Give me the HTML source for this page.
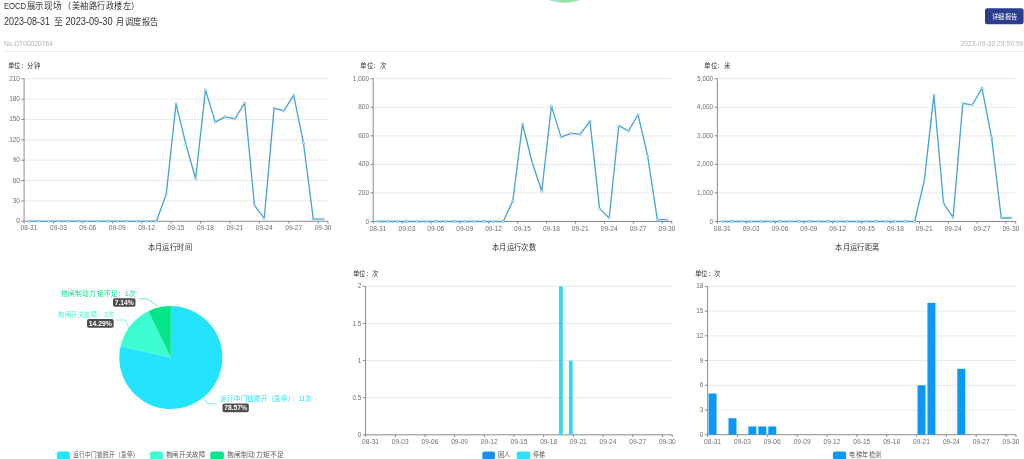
<!DOCTYPE html>
<html lang="zh-CN"><head><meta charset="utf-8"><style>
html,body{margin:0;padding:0;background:#fff;}
body{width:1024px;height:459px;overflow:hidden;position:relative;}
svg{position:absolute;left:0;top:0;font-family:"Liberation Sans", sans-serif;filter:blur(0.55px);}
</style></head><body>
<svg width="1024" height="459" viewBox="0 0 1024 459">
<text x="3.90" y="8.50" font-size="9.6" fill="#333" text-anchor="start" textLength="22.3" lengthAdjust="spacingAndGlyphs">EOCD</text>
<text x="26.60" y="8.50" font-size="8.7" fill="#333" text-anchor="start" textLength="35.1" lengthAdjust="spacingAndGlyphs">展示现场</text>
<text x="63.40" y="8.50" font-size="8.7" fill="#333" text-anchor="start" textLength="76.6" lengthAdjust="spacingAndGlyphs">（美袖路行政楼左）</text>
<text x="3.90" y="24.90" font-size="10" fill="#333" text-anchor="start" textLength="46" lengthAdjust="spacingAndGlyphs">2023-08-31</text>
<text x="53.90" y="24.90" font-size="8.8" fill="#333" text-anchor="start">至</text>
<text x="65.40" y="24.90" font-size="10" fill="#333" text-anchor="start" textLength="47.2" lengthAdjust="spacingAndGlyphs">2023-09-30</text>
<text x="116.40" y="24.90" font-size="8.8" fill="#333" text-anchor="start" textLength="41.9" lengthAdjust="spacingAndGlyphs">月调度报告</text>
<text x="3.90" y="45.80" font-size="6.7" fill="#b4b4b4" text-anchor="start" textLength="49" lengthAdjust="spacingAndGlyphs">No.DT00020764</text>
<text x="1023.50" y="45.80" font-size="6.7" fill="#b4b4b4" text-anchor="end" textLength="63" lengthAdjust="spacingAndGlyphs">2023-09-30 23:59:59</text>
<line x1="3.9" y1="51.3" x2="1024" y2="51.3" stroke="#ececec" stroke-width="1"/>
<rect x="985" y="8.2" width="38.6" height="16" rx="2.2" fill="#2b3d8e"/>
<text x="991.50" y="18.60" font-size="6.7" fill="#fff" text-anchor="start" textLength="26" lengthAdjust="spacingAndGlyphs">详细报告</text>
<defs><linearGradient id="gb" gradientUnits="userSpaceOnUse" x1="548" y1="0" x2="581" y2="0"><stop offset="0" stop-color="#b0d8d0"/><stop offset="0.3" stop-color="#a0e4b8"/><stop offset="0.5" stop-color="#8ae898"/><stop offset="1" stop-color="#98e8a8"/></linearGradient></defs>
<circle cx="564.4" cy="-47.3" r="50" fill="url(#gb)"/>
<line x1="21.3" y1="221.30" x2="24.1" y2="221.30" stroke="#6e6e6e" stroke-width="0.8"/>
<text x="19.90" y="223.30" font-size="7.3" fill="#707070" text-anchor="end" textLength="3.59" lengthAdjust="spacingAndGlyphs">0</text>
<line x1="24.1" y1="200.93" x2="328" y2="200.93" stroke="#e4e4e4" stroke-width="0.8"/>
<line x1="21.3" y1="200.93" x2="24.1" y2="200.93" stroke="#6e6e6e" stroke-width="0.8"/>
<text x="19.90" y="202.93" font-size="7.3" fill="#707070" text-anchor="end" textLength="7.17" lengthAdjust="spacingAndGlyphs">30</text>
<line x1="24.1" y1="180.56" x2="328" y2="180.56" stroke="#e4e4e4" stroke-width="0.8"/>
<line x1="21.3" y1="180.56" x2="24.1" y2="180.56" stroke="#6e6e6e" stroke-width="0.8"/>
<text x="19.90" y="182.56" font-size="7.3" fill="#707070" text-anchor="end" textLength="7.17" lengthAdjust="spacingAndGlyphs">60</text>
<line x1="24.1" y1="160.19" x2="328" y2="160.19" stroke="#e4e4e4" stroke-width="0.8"/>
<line x1="21.3" y1="160.19" x2="24.1" y2="160.19" stroke="#6e6e6e" stroke-width="0.8"/>
<text x="19.90" y="162.19" font-size="7.3" fill="#707070" text-anchor="end" textLength="7.17" lengthAdjust="spacingAndGlyphs">90</text>
<line x1="24.1" y1="139.81" x2="328" y2="139.81" stroke="#e4e4e4" stroke-width="0.8"/>
<line x1="21.3" y1="139.81" x2="24.1" y2="139.81" stroke="#6e6e6e" stroke-width="0.8"/>
<text x="19.90" y="141.81" font-size="7.3" fill="#707070" text-anchor="end" textLength="10.76" lengthAdjust="spacingAndGlyphs">120</text>
<line x1="24.1" y1="119.44" x2="328" y2="119.44" stroke="#e4e4e4" stroke-width="0.8"/>
<line x1="21.3" y1="119.44" x2="24.1" y2="119.44" stroke="#6e6e6e" stroke-width="0.8"/>
<text x="19.90" y="121.44" font-size="7.3" fill="#707070" text-anchor="end" textLength="10.76" lengthAdjust="spacingAndGlyphs">150</text>
<line x1="24.1" y1="99.07" x2="328" y2="99.07" stroke="#e4e4e4" stroke-width="0.8"/>
<line x1="21.3" y1="99.07" x2="24.1" y2="99.07" stroke="#6e6e6e" stroke-width="0.8"/>
<text x="19.90" y="101.07" font-size="7.3" fill="#707070" text-anchor="end" textLength="10.76" lengthAdjust="spacingAndGlyphs">180</text>
<line x1="24.1" y1="78.70" x2="328" y2="78.70" stroke="#e4e4e4" stroke-width="0.8"/>
<line x1="21.3" y1="78.70" x2="24.1" y2="78.70" stroke="#6e6e6e" stroke-width="0.8"/>
<text x="19.90" y="80.70" font-size="7.3" fill="#707070" text-anchor="end" textLength="10.76" lengthAdjust="spacingAndGlyphs">210</text>
<line x1="24.1" y1="78.7" x2="24.1" y2="221.3" stroke="#6e6e6e" stroke-width="0.8"/>
<line x1="24.1" y1="221.3" x2="328" y2="221.3" stroke="#6e6e6e" stroke-width="0.8"/>
<line x1="24.10" y1="221.3" x2="24.10" y2="223.5" stroke="#6e6e6e" stroke-width="0.8"/>
<line x1="53.51" y1="221.3" x2="53.51" y2="223.5" stroke="#6e6e6e" stroke-width="0.8"/>
<line x1="82.92" y1="221.3" x2="82.92" y2="223.5" stroke="#6e6e6e" stroke-width="0.8"/>
<line x1="112.33" y1="221.3" x2="112.33" y2="223.5" stroke="#6e6e6e" stroke-width="0.8"/>
<line x1="141.74" y1="221.3" x2="141.74" y2="223.5" stroke="#6e6e6e" stroke-width="0.8"/>
<line x1="171.15" y1="221.3" x2="171.15" y2="223.5" stroke="#6e6e6e" stroke-width="0.8"/>
<line x1="200.56" y1="221.3" x2="200.56" y2="223.5" stroke="#6e6e6e" stroke-width="0.8"/>
<line x1="229.97" y1="221.3" x2="229.97" y2="223.5" stroke="#6e6e6e" stroke-width="0.8"/>
<line x1="259.38" y1="221.3" x2="259.38" y2="223.5" stroke="#6e6e6e" stroke-width="0.8"/>
<line x1="288.79" y1="221.3" x2="288.79" y2="223.5" stroke="#6e6e6e" stroke-width="0.8"/>
<line x1="318.20" y1="221.3" x2="318.20" y2="223.5" stroke="#6e6e6e" stroke-width="0.8"/>
<line x1="328.00" y1="221.3" x2="328.00" y2="223.5" stroke="#6e6e6e" stroke-width="0.8"/>
<text x="29.00" y="230.45" font-size="7.3" fill="#707070" text-anchor="middle" textLength="16.9" lengthAdjust="spacingAndGlyphs">08-31</text>
<text x="58.41" y="230.45" font-size="7.3" fill="#707070" text-anchor="middle" textLength="16.9" lengthAdjust="spacingAndGlyphs">09-03</text>
<text x="87.82" y="230.45" font-size="7.3" fill="#707070" text-anchor="middle" textLength="16.9" lengthAdjust="spacingAndGlyphs">09-06</text>
<text x="117.23" y="230.45" font-size="7.3" fill="#707070" text-anchor="middle" textLength="16.9" lengthAdjust="spacingAndGlyphs">09-09</text>
<text x="146.64" y="230.45" font-size="7.3" fill="#707070" text-anchor="middle" textLength="16.9" lengthAdjust="spacingAndGlyphs">09-12</text>
<text x="176.05" y="230.45" font-size="7.3" fill="#707070" text-anchor="middle" textLength="16.9" lengthAdjust="spacingAndGlyphs">09-15</text>
<text x="205.46" y="230.45" font-size="7.3" fill="#707070" text-anchor="middle" textLength="16.9" lengthAdjust="spacingAndGlyphs">09-18</text>
<text x="234.87" y="230.45" font-size="7.3" fill="#707070" text-anchor="middle" textLength="16.9" lengthAdjust="spacingAndGlyphs">09-21</text>
<text x="264.28" y="230.45" font-size="7.3" fill="#707070" text-anchor="middle" textLength="16.9" lengthAdjust="spacingAndGlyphs">09-24</text>
<text x="293.69" y="230.45" font-size="7.3" fill="#707070" text-anchor="middle" textLength="16.9" lengthAdjust="spacingAndGlyphs">09-27</text>
<text x="323.10" y="230.45" font-size="7.3" fill="#707070" text-anchor="middle" textLength="16.9" lengthAdjust="spacingAndGlyphs">09-30</text>
<path d="M29.00,221.30 L38.80,221.30 L48.61,221.30 L58.41,221.30 L68.21,221.30 L78.02,221.30 L87.82,221.30 L97.62,221.30 L107.43,221.30 L117.23,221.30 L127.03,221.30 L136.84,221.30 L146.64,221.30 L156.44,221.30 L166.25,194.14 L176.05,103.82 L185.85,144.16 L195.66,178.79 L205.46,89.90 L215.26,122.16 L225.07,116.86 L234.87,118.97 L244.67,102.87 L254.48,205.41 L264.28,218.38 L274.08,108.10 L283.89,110.89 L293.69,95.13 L303.49,143.21 L313.30,219.06 L323.10,219.06" fill="none" stroke="#43a2d6" stroke-width="1.3" stroke-linejoin="round"/>
<circle cx="29.00" cy="221.30" r="1.1" fill="#fff" stroke="#43a2d6" stroke-width="0.6"/>
<circle cx="38.80" cy="221.30" r="1.1" fill="#fff" stroke="#43a2d6" stroke-width="0.6"/>
<circle cx="48.61" cy="221.30" r="1.1" fill="#fff" stroke="#43a2d6" stroke-width="0.6"/>
<circle cx="58.41" cy="221.30" r="1.1" fill="#fff" stroke="#43a2d6" stroke-width="0.6"/>
<circle cx="68.21" cy="221.30" r="1.1" fill="#fff" stroke="#43a2d6" stroke-width="0.6"/>
<circle cx="78.02" cy="221.30" r="1.1" fill="#fff" stroke="#43a2d6" stroke-width="0.6"/>
<circle cx="87.82" cy="221.30" r="1.1" fill="#fff" stroke="#43a2d6" stroke-width="0.6"/>
<circle cx="97.62" cy="221.30" r="1.1" fill="#fff" stroke="#43a2d6" stroke-width="0.6"/>
<circle cx="107.43" cy="221.30" r="1.1" fill="#fff" stroke="#43a2d6" stroke-width="0.6"/>
<circle cx="117.23" cy="221.30" r="1.1" fill="#fff" stroke="#43a2d6" stroke-width="0.6"/>
<circle cx="127.03" cy="221.30" r="1.1" fill="#fff" stroke="#43a2d6" stroke-width="0.6"/>
<circle cx="136.84" cy="221.30" r="1.1" fill="#fff" stroke="#43a2d6" stroke-width="0.6"/>
<circle cx="146.64" cy="221.30" r="1.1" fill="#fff" stroke="#43a2d6" stroke-width="0.6"/>
<circle cx="156.44" cy="221.30" r="1.1" fill="#fff" stroke="#43a2d6" stroke-width="0.6"/>
<circle cx="166.25" cy="194.14" r="1.1" fill="#fff" stroke="#43a2d6" stroke-width="0.6"/>
<circle cx="176.05" cy="103.82" r="1.1" fill="#fff" stroke="#43a2d6" stroke-width="0.6"/>
<circle cx="185.85" cy="144.16" r="1.1" fill="#fff" stroke="#43a2d6" stroke-width="0.6"/>
<circle cx="195.66" cy="178.79" r="1.1" fill="#fff" stroke="#43a2d6" stroke-width="0.6"/>
<circle cx="205.46" cy="89.90" r="1.1" fill="#fff" stroke="#43a2d6" stroke-width="0.6"/>
<circle cx="215.26" cy="122.16" r="1.1" fill="#fff" stroke="#43a2d6" stroke-width="0.6"/>
<circle cx="225.07" cy="116.86" r="1.1" fill="#fff" stroke="#43a2d6" stroke-width="0.6"/>
<circle cx="234.87" cy="118.97" r="1.1" fill="#fff" stroke="#43a2d6" stroke-width="0.6"/>
<circle cx="244.67" cy="102.87" r="1.1" fill="#fff" stroke="#43a2d6" stroke-width="0.6"/>
<circle cx="254.48" cy="205.41" r="1.1" fill="#fff" stroke="#43a2d6" stroke-width="0.6"/>
<circle cx="264.28" cy="218.38" r="1.1" fill="#fff" stroke="#43a2d6" stroke-width="0.6"/>
<circle cx="274.08" cy="108.10" r="1.1" fill="#fff" stroke="#43a2d6" stroke-width="0.6"/>
<circle cx="283.89" cy="110.89" r="1.1" fill="#fff" stroke="#43a2d6" stroke-width="0.6"/>
<circle cx="293.69" cy="95.13" r="1.1" fill="#fff" stroke="#43a2d6" stroke-width="0.6"/>
<circle cx="303.49" cy="143.21" r="1.1" fill="#fff" stroke="#43a2d6" stroke-width="0.6"/>
<circle cx="313.30" cy="219.06" r="1.1" fill="#fff" stroke="#43a2d6" stroke-width="0.6"/>
<circle cx="323.10" cy="219.06" r="1.1" fill="#fff" stroke="#43a2d6" stroke-width="0.6"/>
<line x1="370.4" y1="221.50" x2="373.2" y2="221.50" stroke="#6e6e6e" stroke-width="0.8"/>
<text x="369.00" y="223.50" font-size="7.3" fill="#707070" text-anchor="end" textLength="3.59" lengthAdjust="spacingAndGlyphs">0</text>
<line x1="373.2" y1="192.94" x2="671.8" y2="192.94" stroke="#e4e4e4" stroke-width="0.8"/>
<line x1="370.4" y1="192.94" x2="373.2" y2="192.94" stroke="#6e6e6e" stroke-width="0.8"/>
<text x="369.00" y="194.94" font-size="7.3" fill="#707070" text-anchor="end" textLength="10.76" lengthAdjust="spacingAndGlyphs">200</text>
<line x1="373.2" y1="164.38" x2="671.8" y2="164.38" stroke="#e4e4e4" stroke-width="0.8"/>
<line x1="370.4" y1="164.38" x2="373.2" y2="164.38" stroke="#6e6e6e" stroke-width="0.8"/>
<text x="369.00" y="166.38" font-size="7.3" fill="#707070" text-anchor="end" textLength="10.76" lengthAdjust="spacingAndGlyphs">400</text>
<line x1="373.2" y1="135.82" x2="671.8" y2="135.82" stroke="#e4e4e4" stroke-width="0.8"/>
<line x1="370.4" y1="135.82" x2="373.2" y2="135.82" stroke="#6e6e6e" stroke-width="0.8"/>
<text x="369.00" y="137.82" font-size="7.3" fill="#707070" text-anchor="end" textLength="10.76" lengthAdjust="spacingAndGlyphs">600</text>
<line x1="373.2" y1="107.26" x2="671.8" y2="107.26" stroke="#e4e4e4" stroke-width="0.8"/>
<line x1="370.4" y1="107.26" x2="373.2" y2="107.26" stroke="#6e6e6e" stroke-width="0.8"/>
<text x="369.00" y="109.26" font-size="7.3" fill="#707070" text-anchor="end" textLength="10.76" lengthAdjust="spacingAndGlyphs">800</text>
<line x1="373.2" y1="78.70" x2="671.8" y2="78.70" stroke="#e4e4e4" stroke-width="0.8"/>
<line x1="370.4" y1="78.70" x2="373.2" y2="78.70" stroke="#6e6e6e" stroke-width="0.8"/>
<text x="369.00" y="80.70" font-size="7.3" fill="#707070" text-anchor="end" textLength="16.14" lengthAdjust="spacingAndGlyphs">1,000</text>
<line x1="373.2" y1="78.7" x2="373.2" y2="221.5" stroke="#6e6e6e" stroke-width="0.8"/>
<line x1="373.2" y1="221.5" x2="671.8" y2="221.5" stroke="#6e6e6e" stroke-width="0.8"/>
<line x1="373.20" y1="221.5" x2="373.20" y2="223.7" stroke="#6e6e6e" stroke-width="0.8"/>
<line x1="402.10" y1="221.5" x2="402.10" y2="223.7" stroke="#6e6e6e" stroke-width="0.8"/>
<line x1="430.99" y1="221.5" x2="430.99" y2="223.7" stroke="#6e6e6e" stroke-width="0.8"/>
<line x1="459.89" y1="221.5" x2="459.89" y2="223.7" stroke="#6e6e6e" stroke-width="0.8"/>
<line x1="488.79" y1="221.5" x2="488.79" y2="223.7" stroke="#6e6e6e" stroke-width="0.8"/>
<line x1="517.68" y1="221.5" x2="517.68" y2="223.7" stroke="#6e6e6e" stroke-width="0.8"/>
<line x1="546.58" y1="221.5" x2="546.58" y2="223.7" stroke="#6e6e6e" stroke-width="0.8"/>
<line x1="575.48" y1="221.5" x2="575.48" y2="223.7" stroke="#6e6e6e" stroke-width="0.8"/>
<line x1="604.37" y1="221.5" x2="604.37" y2="223.7" stroke="#6e6e6e" stroke-width="0.8"/>
<line x1="633.27" y1="221.5" x2="633.27" y2="223.7" stroke="#6e6e6e" stroke-width="0.8"/>
<line x1="662.17" y1="221.5" x2="662.17" y2="223.7" stroke="#6e6e6e" stroke-width="0.8"/>
<line x1="671.80" y1="221.5" x2="671.80" y2="223.7" stroke="#6e6e6e" stroke-width="0.8"/>
<text x="378.02" y="230.65" font-size="7.3" fill="#707070" text-anchor="middle" textLength="16.9" lengthAdjust="spacingAndGlyphs">08-31</text>
<text x="406.91" y="230.65" font-size="7.3" fill="#707070" text-anchor="middle" textLength="16.9" lengthAdjust="spacingAndGlyphs">09-03</text>
<text x="435.81" y="230.65" font-size="7.3" fill="#707070" text-anchor="middle" textLength="16.9" lengthAdjust="spacingAndGlyphs">09-06</text>
<text x="464.71" y="230.65" font-size="7.3" fill="#707070" text-anchor="middle" textLength="16.9" lengthAdjust="spacingAndGlyphs">09-09</text>
<text x="493.60" y="230.65" font-size="7.3" fill="#707070" text-anchor="middle" textLength="16.9" lengthAdjust="spacingAndGlyphs">09-12</text>
<text x="522.50" y="230.65" font-size="7.3" fill="#707070" text-anchor="middle" textLength="16.9" lengthAdjust="spacingAndGlyphs">09-15</text>
<text x="551.40" y="230.65" font-size="7.3" fill="#707070" text-anchor="middle" textLength="16.9" lengthAdjust="spacingAndGlyphs">09-18</text>
<text x="580.29" y="230.65" font-size="7.3" fill="#707070" text-anchor="middle" textLength="16.9" lengthAdjust="spacingAndGlyphs">09-21</text>
<text x="609.19" y="230.65" font-size="7.3" fill="#707070" text-anchor="middle" textLength="16.9" lengthAdjust="spacingAndGlyphs">09-24</text>
<text x="638.09" y="230.65" font-size="7.3" fill="#707070" text-anchor="middle" textLength="16.9" lengthAdjust="spacingAndGlyphs">09-27</text>
<text x="666.98" y="230.65" font-size="7.3" fill="#707070" text-anchor="middle" textLength="16.9" lengthAdjust="spacingAndGlyphs">09-30</text>
<path d="M378.02,221.50 L387.65,221.50 L397.28,221.50 L406.91,221.50 L416.55,221.50 L426.18,221.50 L435.81,221.50 L445.44,221.50 L455.07,221.50 L464.71,221.50 L474.34,221.50 L483.97,221.50 L493.60,221.50 L503.24,221.50 L512.87,200.65 L522.50,123.97 L532.13,162.24 L541.76,191.23 L551.40,106.12 L561.03,137.11 L570.66,133.39 L580.29,134.11 L589.93,121.11 L599.56,208.65 L609.19,217.93 L618.82,125.68 L628.45,130.96 L638.09,114.54 L647.72,156.38 L657.35,219.64 L666.98,219.64" fill="none" stroke="#43a2d6" stroke-width="1.3" stroke-linejoin="round"/>
<circle cx="378.02" cy="221.50" r="1.1" fill="#fff" stroke="#43a2d6" stroke-width="0.6"/>
<circle cx="387.65" cy="221.50" r="1.1" fill="#fff" stroke="#43a2d6" stroke-width="0.6"/>
<circle cx="397.28" cy="221.50" r="1.1" fill="#fff" stroke="#43a2d6" stroke-width="0.6"/>
<circle cx="406.91" cy="221.50" r="1.1" fill="#fff" stroke="#43a2d6" stroke-width="0.6"/>
<circle cx="416.55" cy="221.50" r="1.1" fill="#fff" stroke="#43a2d6" stroke-width="0.6"/>
<circle cx="426.18" cy="221.50" r="1.1" fill="#fff" stroke="#43a2d6" stroke-width="0.6"/>
<circle cx="435.81" cy="221.50" r="1.1" fill="#fff" stroke="#43a2d6" stroke-width="0.6"/>
<circle cx="445.44" cy="221.50" r="1.1" fill="#fff" stroke="#43a2d6" stroke-width="0.6"/>
<circle cx="455.07" cy="221.50" r="1.1" fill="#fff" stroke="#43a2d6" stroke-width="0.6"/>
<circle cx="464.71" cy="221.50" r="1.1" fill="#fff" stroke="#43a2d6" stroke-width="0.6"/>
<circle cx="474.34" cy="221.50" r="1.1" fill="#fff" stroke="#43a2d6" stroke-width="0.6"/>
<circle cx="483.97" cy="221.50" r="1.1" fill="#fff" stroke="#43a2d6" stroke-width="0.6"/>
<circle cx="493.60" cy="221.50" r="1.1" fill="#fff" stroke="#43a2d6" stroke-width="0.6"/>
<circle cx="503.24" cy="221.50" r="1.1" fill="#fff" stroke="#43a2d6" stroke-width="0.6"/>
<circle cx="512.87" cy="200.65" r="1.1" fill="#fff" stroke="#43a2d6" stroke-width="0.6"/>
<circle cx="522.50" cy="123.97" r="1.1" fill="#fff" stroke="#43a2d6" stroke-width="0.6"/>
<circle cx="532.13" cy="162.24" r="1.1" fill="#fff" stroke="#43a2d6" stroke-width="0.6"/>
<circle cx="541.76" cy="191.23" r="1.1" fill="#fff" stroke="#43a2d6" stroke-width="0.6"/>
<circle cx="551.40" cy="106.12" r="1.1" fill="#fff" stroke="#43a2d6" stroke-width="0.6"/>
<circle cx="561.03" cy="137.11" r="1.1" fill="#fff" stroke="#43a2d6" stroke-width="0.6"/>
<circle cx="570.66" cy="133.39" r="1.1" fill="#fff" stroke="#43a2d6" stroke-width="0.6"/>
<circle cx="580.29" cy="134.11" r="1.1" fill="#fff" stroke="#43a2d6" stroke-width="0.6"/>
<circle cx="589.93" cy="121.11" r="1.1" fill="#fff" stroke="#43a2d6" stroke-width="0.6"/>
<circle cx="599.56" cy="208.65" r="1.1" fill="#fff" stroke="#43a2d6" stroke-width="0.6"/>
<circle cx="609.19" cy="217.93" r="1.1" fill="#fff" stroke="#43a2d6" stroke-width="0.6"/>
<circle cx="618.82" cy="125.68" r="1.1" fill="#fff" stroke="#43a2d6" stroke-width="0.6"/>
<circle cx="628.45" cy="130.96" r="1.1" fill="#fff" stroke="#43a2d6" stroke-width="0.6"/>
<circle cx="638.09" cy="114.54" r="1.1" fill="#fff" stroke="#43a2d6" stroke-width="0.6"/>
<circle cx="647.72" cy="156.38" r="1.1" fill="#fff" stroke="#43a2d6" stroke-width="0.6"/>
<circle cx="657.35" cy="219.64" r="1.1" fill="#fff" stroke="#43a2d6" stroke-width="0.6"/>
<circle cx="666.98" cy="219.64" r="1.1" fill="#fff" stroke="#43a2d6" stroke-width="0.6"/>
<line x1="714.6" y1="221.50" x2="717.4" y2="221.50" stroke="#6e6e6e" stroke-width="0.8"/>
<text x="713.20" y="223.50" font-size="7.3" fill="#707070" text-anchor="end" textLength="3.59" lengthAdjust="spacingAndGlyphs">0</text>
<line x1="717.4" y1="192.94" x2="1015.7" y2="192.94" stroke="#e4e4e4" stroke-width="0.8"/>
<line x1="714.6" y1="192.94" x2="717.4" y2="192.94" stroke="#6e6e6e" stroke-width="0.8"/>
<text x="713.20" y="194.94" font-size="7.3" fill="#707070" text-anchor="end" textLength="16.14" lengthAdjust="spacingAndGlyphs">1,000</text>
<line x1="717.4" y1="164.38" x2="1015.7" y2="164.38" stroke="#e4e4e4" stroke-width="0.8"/>
<line x1="714.6" y1="164.38" x2="717.4" y2="164.38" stroke="#6e6e6e" stroke-width="0.8"/>
<text x="713.20" y="166.38" font-size="7.3" fill="#707070" text-anchor="end" textLength="16.14" lengthAdjust="spacingAndGlyphs">2,000</text>
<line x1="717.4" y1="135.82" x2="1015.7" y2="135.82" stroke="#e4e4e4" stroke-width="0.8"/>
<line x1="714.6" y1="135.82" x2="717.4" y2="135.82" stroke="#6e6e6e" stroke-width="0.8"/>
<text x="713.20" y="137.82" font-size="7.3" fill="#707070" text-anchor="end" textLength="16.14" lengthAdjust="spacingAndGlyphs">3,000</text>
<line x1="717.4" y1="107.26" x2="1015.7" y2="107.26" stroke="#e4e4e4" stroke-width="0.8"/>
<line x1="714.6" y1="107.26" x2="717.4" y2="107.26" stroke="#6e6e6e" stroke-width="0.8"/>
<text x="713.20" y="109.26" font-size="7.3" fill="#707070" text-anchor="end" textLength="16.14" lengthAdjust="spacingAndGlyphs">4,000</text>
<line x1="717.4" y1="78.70" x2="1015.7" y2="78.70" stroke="#e4e4e4" stroke-width="0.8"/>
<line x1="714.6" y1="78.70" x2="717.4" y2="78.70" stroke="#6e6e6e" stroke-width="0.8"/>
<text x="713.20" y="80.70" font-size="7.3" fill="#707070" text-anchor="end" textLength="16.14" lengthAdjust="spacingAndGlyphs">5,000</text>
<line x1="717.4" y1="78.7" x2="717.4" y2="221.5" stroke="#6e6e6e" stroke-width="0.8"/>
<line x1="717.4" y1="221.5" x2="1015.7" y2="221.5" stroke="#6e6e6e" stroke-width="0.8"/>
<line x1="717.40" y1="221.5" x2="717.40" y2="223.7" stroke="#6e6e6e" stroke-width="0.8"/>
<line x1="746.27" y1="221.5" x2="746.27" y2="223.7" stroke="#6e6e6e" stroke-width="0.8"/>
<line x1="775.14" y1="221.5" x2="775.14" y2="223.7" stroke="#6e6e6e" stroke-width="0.8"/>
<line x1="804.00" y1="221.5" x2="804.00" y2="223.7" stroke="#6e6e6e" stroke-width="0.8"/>
<line x1="832.87" y1="221.5" x2="832.87" y2="223.7" stroke="#6e6e6e" stroke-width="0.8"/>
<line x1="861.74" y1="221.5" x2="861.74" y2="223.7" stroke="#6e6e6e" stroke-width="0.8"/>
<line x1="890.61" y1="221.5" x2="890.61" y2="223.7" stroke="#6e6e6e" stroke-width="0.8"/>
<line x1="919.47" y1="221.5" x2="919.47" y2="223.7" stroke="#6e6e6e" stroke-width="0.8"/>
<line x1="948.34" y1="221.5" x2="948.34" y2="223.7" stroke="#6e6e6e" stroke-width="0.8"/>
<line x1="977.21" y1="221.5" x2="977.21" y2="223.7" stroke="#6e6e6e" stroke-width="0.8"/>
<line x1="1006.08" y1="221.5" x2="1006.08" y2="223.7" stroke="#6e6e6e" stroke-width="0.8"/>
<line x1="1015.70" y1="221.5" x2="1015.70" y2="223.7" stroke="#6e6e6e" stroke-width="0.8"/>
<text x="722.21" y="230.65" font-size="7.3" fill="#707070" text-anchor="middle" textLength="16.9" lengthAdjust="spacingAndGlyphs">08-31</text>
<text x="751.08" y="230.65" font-size="7.3" fill="#707070" text-anchor="middle" textLength="16.9" lengthAdjust="spacingAndGlyphs">09-03</text>
<text x="779.95" y="230.65" font-size="7.3" fill="#707070" text-anchor="middle" textLength="16.9" lengthAdjust="spacingAndGlyphs">09-06</text>
<text x="808.81" y="230.65" font-size="7.3" fill="#707070" text-anchor="middle" textLength="16.9" lengthAdjust="spacingAndGlyphs">09-09</text>
<text x="837.68" y="230.65" font-size="7.3" fill="#707070" text-anchor="middle" textLength="16.9" lengthAdjust="spacingAndGlyphs">09-12</text>
<text x="866.55" y="230.65" font-size="7.3" fill="#707070" text-anchor="middle" textLength="16.9" lengthAdjust="spacingAndGlyphs">09-15</text>
<text x="895.42" y="230.65" font-size="7.3" fill="#707070" text-anchor="middle" textLength="16.9" lengthAdjust="spacingAndGlyphs">09-18</text>
<text x="924.29" y="230.65" font-size="7.3" fill="#707070" text-anchor="middle" textLength="16.9" lengthAdjust="spacingAndGlyphs">09-21</text>
<text x="953.15" y="230.65" font-size="7.3" fill="#707070" text-anchor="middle" textLength="16.9" lengthAdjust="spacingAndGlyphs">09-24</text>
<text x="982.02" y="230.65" font-size="7.3" fill="#707070" text-anchor="middle" textLength="16.9" lengthAdjust="spacingAndGlyphs">09-27</text>
<text x="1010.89" y="230.65" font-size="7.3" fill="#707070" text-anchor="middle" textLength="16.9" lengthAdjust="spacingAndGlyphs">09-30</text>
<path d="M722.21,221.50 L731.83,221.50 L741.46,221.50 L751.08,221.50 L760.70,221.50 L770.32,221.50 L779.95,221.50 L789.57,221.50 L799.19,221.50 L808.81,221.50 L818.44,221.50 L828.06,221.50 L837.68,221.50 L847.30,221.50 L856.93,221.50 L866.55,221.50 L876.17,221.50 L885.80,221.50 L895.42,221.50 L905.04,221.50 L914.66,221.50 L924.29,180.72 L933.91,95.09 L943.53,203.31 L953.15,217.30 L962.78,103.38 L972.40,104.78 L982.02,88.10 L991.64,137.85 L1001.27,218.02 L1010.89,218.02" fill="none" stroke="#43a2d6" stroke-width="1.3" stroke-linejoin="round"/>
<circle cx="722.21" cy="221.50" r="1.1" fill="#fff" stroke="#43a2d6" stroke-width="0.6"/>
<circle cx="731.83" cy="221.50" r="1.1" fill="#fff" stroke="#43a2d6" stroke-width="0.6"/>
<circle cx="741.46" cy="221.50" r="1.1" fill="#fff" stroke="#43a2d6" stroke-width="0.6"/>
<circle cx="751.08" cy="221.50" r="1.1" fill="#fff" stroke="#43a2d6" stroke-width="0.6"/>
<circle cx="760.70" cy="221.50" r="1.1" fill="#fff" stroke="#43a2d6" stroke-width="0.6"/>
<circle cx="770.32" cy="221.50" r="1.1" fill="#fff" stroke="#43a2d6" stroke-width="0.6"/>
<circle cx="779.95" cy="221.50" r="1.1" fill="#fff" stroke="#43a2d6" stroke-width="0.6"/>
<circle cx="789.57" cy="221.50" r="1.1" fill="#fff" stroke="#43a2d6" stroke-width="0.6"/>
<circle cx="799.19" cy="221.50" r="1.1" fill="#fff" stroke="#43a2d6" stroke-width="0.6"/>
<circle cx="808.81" cy="221.50" r="1.1" fill="#fff" stroke="#43a2d6" stroke-width="0.6"/>
<circle cx="818.44" cy="221.50" r="1.1" fill="#fff" stroke="#43a2d6" stroke-width="0.6"/>
<circle cx="828.06" cy="221.50" r="1.1" fill="#fff" stroke="#43a2d6" stroke-width="0.6"/>
<circle cx="837.68" cy="221.50" r="1.1" fill="#fff" stroke="#43a2d6" stroke-width="0.6"/>
<circle cx="847.30" cy="221.50" r="1.1" fill="#fff" stroke="#43a2d6" stroke-width="0.6"/>
<circle cx="856.93" cy="221.50" r="1.1" fill="#fff" stroke="#43a2d6" stroke-width="0.6"/>
<circle cx="866.55" cy="221.50" r="1.1" fill="#fff" stroke="#43a2d6" stroke-width="0.6"/>
<circle cx="876.17" cy="221.50" r="1.1" fill="#fff" stroke="#43a2d6" stroke-width="0.6"/>
<circle cx="885.80" cy="221.50" r="1.1" fill="#fff" stroke="#43a2d6" stroke-width="0.6"/>
<circle cx="895.42" cy="221.50" r="1.1" fill="#fff" stroke="#43a2d6" stroke-width="0.6"/>
<circle cx="905.04" cy="221.50" r="1.1" fill="#fff" stroke="#43a2d6" stroke-width="0.6"/>
<circle cx="914.66" cy="221.50" r="1.1" fill="#fff" stroke="#43a2d6" stroke-width="0.6"/>
<circle cx="924.29" cy="180.72" r="1.1" fill="#fff" stroke="#43a2d6" stroke-width="0.6"/>
<circle cx="933.91" cy="95.09" r="1.1" fill="#fff" stroke="#43a2d6" stroke-width="0.6"/>
<circle cx="943.53" cy="203.31" r="1.1" fill="#fff" stroke="#43a2d6" stroke-width="0.6"/>
<circle cx="953.15" cy="217.30" r="1.1" fill="#fff" stroke="#43a2d6" stroke-width="0.6"/>
<circle cx="962.78" cy="103.38" r="1.1" fill="#fff" stroke="#43a2d6" stroke-width="0.6"/>
<circle cx="972.40" cy="104.78" r="1.1" fill="#fff" stroke="#43a2d6" stroke-width="0.6"/>
<circle cx="982.02" cy="88.10" r="1.1" fill="#fff" stroke="#43a2d6" stroke-width="0.6"/>
<circle cx="991.64" cy="137.85" r="1.1" fill="#fff" stroke="#43a2d6" stroke-width="0.6"/>
<circle cx="1001.27" cy="218.02" r="1.1" fill="#fff" stroke="#43a2d6" stroke-width="0.6"/>
<circle cx="1010.89" cy="218.02" r="1.1" fill="#fff" stroke="#43a2d6" stroke-width="0.6"/>
<text x="8.00" y="67.70" font-size="6.9" fill="#333" text-anchor="start" textLength="32" lengthAdjust="spacingAndGlyphs">单位：分钟</text>
<text x="360.20" y="67.70" font-size="6.9" fill="#333" text-anchor="start" textLength="26" lengthAdjust="spacingAndGlyphs">单位：次</text>
<text x="704.00" y="67.70" font-size="6.9" fill="#333" text-anchor="start" textLength="26" lengthAdjust="spacingAndGlyphs">单位：米</text>
<text x="169.80" y="249.90" font-size="7.8" fill="#333" text-anchor="middle" textLength="44.6" lengthAdjust="spacingAndGlyphs">本月运行时间</text>
<text x="514.00" y="249.90" font-size="7.8" fill="#333" text-anchor="middle" textLength="44.6" lengthAdjust="spacingAndGlyphs">本月运行次数</text>
<text x="857.40" y="249.90" font-size="7.8" fill="#333" text-anchor="middle" textLength="44.6" lengthAdjust="spacingAndGlyphs">本月运行距离</text>
<line x1="362.8" y1="434.80" x2="365.6" y2="434.80" stroke="#6e6e6e" stroke-width="0.8"/>
<text x="361.40" y="436.80" font-size="7.3" fill="#707070" text-anchor="end" textLength="3.59" lengthAdjust="spacingAndGlyphs">0</text>
<line x1="365.6" y1="397.70" x2="672.3" y2="397.70" stroke="#e4e4e4" stroke-width="0.8"/>
<line x1="362.8" y1="397.70" x2="365.6" y2="397.70" stroke="#6e6e6e" stroke-width="0.8"/>
<text x="361.40" y="399.70" font-size="7.3" fill="#707070" text-anchor="end" textLength="8.97" lengthAdjust="spacingAndGlyphs">0.5</text>
<line x1="365.6" y1="360.60" x2="672.3" y2="360.60" stroke="#e4e4e4" stroke-width="0.8"/>
<line x1="362.8" y1="360.60" x2="365.6" y2="360.60" stroke="#6e6e6e" stroke-width="0.8"/>
<text x="361.40" y="362.60" font-size="7.3" fill="#707070" text-anchor="end" textLength="3.59" lengthAdjust="spacingAndGlyphs">1</text>
<line x1="365.6" y1="323.50" x2="672.3" y2="323.50" stroke="#e4e4e4" stroke-width="0.8"/>
<line x1="362.8" y1="323.50" x2="365.6" y2="323.50" stroke="#6e6e6e" stroke-width="0.8"/>
<text x="361.40" y="325.50" font-size="7.3" fill="#707070" text-anchor="end" textLength="8.97" lengthAdjust="spacingAndGlyphs">1.5</text>
<line x1="365.6" y1="286.40" x2="672.3" y2="286.40" stroke="#e4e4e4" stroke-width="0.8"/>
<line x1="362.8" y1="286.40" x2="365.6" y2="286.40" stroke="#6e6e6e" stroke-width="0.8"/>
<text x="361.40" y="288.40" font-size="7.3" fill="#707070" text-anchor="end" textLength="3.59" lengthAdjust="spacingAndGlyphs">2</text>
<line x1="365.6" y1="286.4" x2="365.6" y2="434.8" stroke="#6e6e6e" stroke-width="0.8"/>
<line x1="365.6" y1="434.8" x2="672.3" y2="434.8" stroke="#6e6e6e" stroke-width="0.8"/>
<line x1="365.60" y1="434.8" x2="365.60" y2="437.0" stroke="#6e6e6e" stroke-width="0.8"/>
<line x1="395.28" y1="434.8" x2="395.28" y2="437.0" stroke="#6e6e6e" stroke-width="0.8"/>
<line x1="424.96" y1="434.8" x2="424.96" y2="437.0" stroke="#6e6e6e" stroke-width="0.8"/>
<line x1="454.64" y1="434.8" x2="454.64" y2="437.0" stroke="#6e6e6e" stroke-width="0.8"/>
<line x1="484.32" y1="434.8" x2="484.32" y2="437.0" stroke="#6e6e6e" stroke-width="0.8"/>
<line x1="514.00" y1="434.8" x2="514.00" y2="437.0" stroke="#6e6e6e" stroke-width="0.8"/>
<line x1="543.68" y1="434.8" x2="543.68" y2="437.0" stroke="#6e6e6e" stroke-width="0.8"/>
<line x1="573.36" y1="434.8" x2="573.36" y2="437.0" stroke="#6e6e6e" stroke-width="0.8"/>
<line x1="603.05" y1="434.8" x2="603.05" y2="437.0" stroke="#6e6e6e" stroke-width="0.8"/>
<line x1="632.73" y1="434.8" x2="632.73" y2="437.0" stroke="#6e6e6e" stroke-width="0.8"/>
<line x1="662.41" y1="434.8" x2="662.41" y2="437.0" stroke="#6e6e6e" stroke-width="0.8"/>
<line x1="672.30" y1="434.8" x2="672.30" y2="437.0" stroke="#6e6e6e" stroke-width="0.8"/>
<text x="370.55" y="443.95" font-size="7.3" fill="#707070" text-anchor="middle" textLength="16.9" lengthAdjust="spacingAndGlyphs">08-31</text>
<text x="400.23" y="443.95" font-size="7.3" fill="#707070" text-anchor="middle" textLength="16.9" lengthAdjust="spacingAndGlyphs">09-03</text>
<text x="429.91" y="443.95" font-size="7.3" fill="#707070" text-anchor="middle" textLength="16.9" lengthAdjust="spacingAndGlyphs">09-06</text>
<text x="459.59" y="443.95" font-size="7.3" fill="#707070" text-anchor="middle" textLength="16.9" lengthAdjust="spacingAndGlyphs">09-09</text>
<text x="489.27" y="443.95" font-size="7.3" fill="#707070" text-anchor="middle" textLength="16.9" lengthAdjust="spacingAndGlyphs">09-12</text>
<text x="518.95" y="443.95" font-size="7.3" fill="#707070" text-anchor="middle" textLength="16.9" lengthAdjust="spacingAndGlyphs">09-15</text>
<text x="548.63" y="443.95" font-size="7.3" fill="#707070" text-anchor="middle" textLength="16.9" lengthAdjust="spacingAndGlyphs">09-18</text>
<text x="578.31" y="443.95" font-size="7.3" fill="#707070" text-anchor="middle" textLength="16.9" lengthAdjust="spacingAndGlyphs">09-21</text>
<text x="607.99" y="443.95" font-size="7.3" fill="#707070" text-anchor="middle" textLength="16.9" lengthAdjust="spacingAndGlyphs">09-24</text>
<text x="637.67" y="443.95" font-size="7.3" fill="#707070" text-anchor="middle" textLength="16.9" lengthAdjust="spacingAndGlyphs">09-27</text>
<text x="667.35" y="443.95" font-size="7.3" fill="#707070" text-anchor="middle" textLength="16.9" lengthAdjust="spacingAndGlyphs">09-30</text>
<rect x="559.02" y="286.40" width="3.80" height="148.40" fill="#36d6ee"/>
<rect x="568.92" y="360.60" width="3.80" height="74.20" fill="#36d6ee"/>
<text x="352.60" y="275.50" font-size="6.9" fill="#333" text-anchor="start" textLength="26" lengthAdjust="spacingAndGlyphs">单位：次</text>
<rect x="482.3" y="451.4" width="12.7" height="8" rx="2.2" fill="#1a8ff0"/>
<text x="498.00" y="457.30" font-size="6.6" fill="#555" text-anchor="start" textLength="12.9" lengthAdjust="spacingAndGlyphs">困人</text>
<rect x="516.6" y="451.4" width="13.6" height="8" rx="2.2" fill="#2fe0fa"/>
<text x="533.30" y="457.30" font-size="6.6" fill="#555" text-anchor="start" textLength="12.3" lengthAdjust="spacingAndGlyphs">停梯</text>
<line x1="704.8000000000001" y1="434.70" x2="707.6" y2="434.70" stroke="#6e6e6e" stroke-width="0.8"/>
<text x="703.40" y="436.70" font-size="7.3" fill="#707070" text-anchor="end" textLength="3.59" lengthAdjust="spacingAndGlyphs">0</text>
<line x1="707.6" y1="409.98" x2="1016" y2="409.98" stroke="#e4e4e4" stroke-width="0.8"/>
<line x1="704.8000000000001" y1="409.98" x2="707.6" y2="409.98" stroke="#6e6e6e" stroke-width="0.8"/>
<text x="703.40" y="411.98" font-size="7.3" fill="#707070" text-anchor="end" textLength="3.59" lengthAdjust="spacingAndGlyphs">3</text>
<line x1="707.6" y1="385.27" x2="1016" y2="385.27" stroke="#e4e4e4" stroke-width="0.8"/>
<line x1="704.8000000000001" y1="385.27" x2="707.6" y2="385.27" stroke="#6e6e6e" stroke-width="0.8"/>
<text x="703.40" y="387.27" font-size="7.3" fill="#707070" text-anchor="end" textLength="3.59" lengthAdjust="spacingAndGlyphs">6</text>
<line x1="707.6" y1="360.55" x2="1016" y2="360.55" stroke="#e4e4e4" stroke-width="0.8"/>
<line x1="704.8000000000001" y1="360.55" x2="707.6" y2="360.55" stroke="#6e6e6e" stroke-width="0.8"/>
<text x="703.40" y="362.55" font-size="7.3" fill="#707070" text-anchor="end" textLength="3.59" lengthAdjust="spacingAndGlyphs">9</text>
<line x1="707.6" y1="335.83" x2="1016" y2="335.83" stroke="#e4e4e4" stroke-width="0.8"/>
<line x1="704.8000000000001" y1="335.83" x2="707.6" y2="335.83" stroke="#6e6e6e" stroke-width="0.8"/>
<text x="703.40" y="337.83" font-size="7.3" fill="#707070" text-anchor="end" textLength="7.17" lengthAdjust="spacingAndGlyphs">12</text>
<line x1="707.6" y1="311.12" x2="1016" y2="311.12" stroke="#e4e4e4" stroke-width="0.8"/>
<line x1="704.8000000000001" y1="311.12" x2="707.6" y2="311.12" stroke="#6e6e6e" stroke-width="0.8"/>
<text x="703.40" y="313.12" font-size="7.3" fill="#707070" text-anchor="end" textLength="7.17" lengthAdjust="spacingAndGlyphs">15</text>
<line x1="707.6" y1="286.40" x2="1016" y2="286.40" stroke="#e4e4e4" stroke-width="0.8"/>
<line x1="704.8000000000001" y1="286.40" x2="707.6" y2="286.40" stroke="#6e6e6e" stroke-width="0.8"/>
<text x="703.40" y="288.40" font-size="7.3" fill="#707070" text-anchor="end" textLength="7.17" lengthAdjust="spacingAndGlyphs">18</text>
<line x1="707.6" y1="286.4" x2="707.6" y2="434.7" stroke="#6e6e6e" stroke-width="0.8"/>
<line x1="707.6" y1="434.7" x2="1016" y2="434.7" stroke="#6e6e6e" stroke-width="0.8"/>
<line x1="707.60" y1="434.7" x2="707.60" y2="436.9" stroke="#6e6e6e" stroke-width="0.8"/>
<line x1="737.45" y1="434.7" x2="737.45" y2="436.9" stroke="#6e6e6e" stroke-width="0.8"/>
<line x1="767.29" y1="434.7" x2="767.29" y2="436.9" stroke="#6e6e6e" stroke-width="0.8"/>
<line x1="797.14" y1="434.7" x2="797.14" y2="436.9" stroke="#6e6e6e" stroke-width="0.8"/>
<line x1="826.98" y1="434.7" x2="826.98" y2="436.9" stroke="#6e6e6e" stroke-width="0.8"/>
<line x1="856.83" y1="434.7" x2="856.83" y2="436.9" stroke="#6e6e6e" stroke-width="0.8"/>
<line x1="886.67" y1="434.7" x2="886.67" y2="436.9" stroke="#6e6e6e" stroke-width="0.8"/>
<line x1="916.52" y1="434.7" x2="916.52" y2="436.9" stroke="#6e6e6e" stroke-width="0.8"/>
<line x1="946.36" y1="434.7" x2="946.36" y2="436.9" stroke="#6e6e6e" stroke-width="0.8"/>
<line x1="976.21" y1="434.7" x2="976.21" y2="436.9" stroke="#6e6e6e" stroke-width="0.8"/>
<line x1="1006.05" y1="434.7" x2="1006.05" y2="436.9" stroke="#6e6e6e" stroke-width="0.8"/>
<line x1="1016.00" y1="434.7" x2="1016.00" y2="436.9" stroke="#6e6e6e" stroke-width="0.8"/>
<text x="712.57" y="443.85" font-size="7.3" fill="#707070" text-anchor="middle" textLength="16.9" lengthAdjust="spacingAndGlyphs">08-31</text>
<text x="742.42" y="443.85" font-size="7.3" fill="#707070" text-anchor="middle" textLength="16.9" lengthAdjust="spacingAndGlyphs">09-03</text>
<text x="772.26" y="443.85" font-size="7.3" fill="#707070" text-anchor="middle" textLength="16.9" lengthAdjust="spacingAndGlyphs">09-06</text>
<text x="802.11" y="443.85" font-size="7.3" fill="#707070" text-anchor="middle" textLength="16.9" lengthAdjust="spacingAndGlyphs">09-09</text>
<text x="831.95" y="443.85" font-size="7.3" fill="#707070" text-anchor="middle" textLength="16.9" lengthAdjust="spacingAndGlyphs">09-12</text>
<text x="861.80" y="443.85" font-size="7.3" fill="#707070" text-anchor="middle" textLength="16.9" lengthAdjust="spacingAndGlyphs">09-15</text>
<text x="891.65" y="443.85" font-size="7.3" fill="#707070" text-anchor="middle" textLength="16.9" lengthAdjust="spacingAndGlyphs">09-18</text>
<text x="921.49" y="443.85" font-size="7.3" fill="#707070" text-anchor="middle" textLength="16.9" lengthAdjust="spacingAndGlyphs">09-21</text>
<text x="951.34" y="443.85" font-size="7.3" fill="#707070" text-anchor="middle" textLength="16.9" lengthAdjust="spacingAndGlyphs">09-24</text>
<text x="981.18" y="443.85" font-size="7.3" fill="#707070" text-anchor="middle" textLength="16.9" lengthAdjust="spacingAndGlyphs">09-27</text>
<text x="1011.03" y="443.85" font-size="7.3" fill="#707070" text-anchor="middle" textLength="16.9" lengthAdjust="spacingAndGlyphs">09-30</text>
<rect x="708.59" y="393.51" width="7.96" height="41.19" fill="#0b97f4"/>
<rect x="728.49" y="418.22" width="7.96" height="16.48" fill="#0b97f4"/>
<rect x="748.39" y="426.46" width="7.96" height="8.24" fill="#0b97f4"/>
<rect x="758.34" y="426.46" width="7.96" height="8.24" fill="#0b97f4"/>
<rect x="768.29" y="426.46" width="7.96" height="8.24" fill="#0b97f4"/>
<rect x="917.51" y="385.27" width="7.96" height="49.43" fill="#0b97f4"/>
<rect x="927.46" y="302.88" width="7.96" height="131.82" fill="#0b97f4"/>
<rect x="957.30" y="368.79" width="7.96" height="65.91" fill="#0b97f4"/>
<text x="694.80" y="275.50" font-size="6.9" fill="#333" text-anchor="start" textLength="26" lengthAdjust="spacingAndGlyphs">单位：次</text>
<rect x="832.9" y="451.4" width="13.3" height="8" rx="2.2" fill="#0b97f4"/>
<text x="849.30" y="457.30" font-size="6.6" fill="#555" text-anchor="start" textLength="32.4" lengthAdjust="spacingAndGlyphs">电梯年检测</text>
<path d="M170.8,357.6 L170.80,306.10 A51.5,51.5 0 1 1 120.59,346.14 Z" fill="#24e3ff"/>
<path d="M170.8,357.6 L120.59,346.14 A51.5,51.5 0 0 1 148.45,311.20 Z" fill="#3efcd2"/>
<path d="M170.8,357.6 L148.45,311.20 A51.5,51.5 0 0 1 170.80,306.10 Z" fill="#05e58a"/>
<polyline points="204,398.3 207.8,403.7 216.6,403.7" fill="none" stroke="#24e3ff" stroke-width="0.6"/>
<polyline points="158,306.2 147.3,298.8 138.9,298.8" fill="none" stroke="#05e58a" stroke-width="0.6"/>
<polyline points="129,328 125.2,320 115.4,320" fill="none" stroke="#3efcd2" stroke-width="0.6"/>
<text x="220.30" y="401.30" font-size="6.5" fill="#24e3ff" text-anchor="start" textLength="91.5" lengthAdjust="spacingAndGlyphs">运行中门锁脱开（急停）：11次</text>
<rect x="222.5" y="403.4" width="26.30" height="8.80" rx="1.8" fill="#4e4e50"/>
<text x="235.65" y="410.10" font-size="6.4" fill="#fff" text-anchor="middle" textLength="22.9" lengthAdjust="spacingAndGlyphs" font-weight="bold">78.57%</text>
<text x="60.90" y="295.70" font-size="6.5" fill="#05e58a" text-anchor="start" textLength="75" lengthAdjust="spacingAndGlyphs">抱闸制动力矩不足：1次</text>
<rect x="113" y="298.3" width="22.50" height="8.50" rx="1.8" fill="#4e4e50"/>
<text x="124.25" y="304.70" font-size="6.4" fill="#fff" text-anchor="middle" textLength="19.1" lengthAdjust="spacingAndGlyphs" font-weight="bold">7.14%</text>
<text x="58.20" y="317.00" font-size="6.5" fill="#3efcd2" text-anchor="start" textLength="56" lengthAdjust="spacingAndGlyphs">抱闸开关故障：2次</text>
<rect x="87" y="319" width="26.70" height="8.80" rx="1.8" fill="#4e4e50"/>
<text x="100.35" y="325.70" font-size="6.4" fill="#fff" text-anchor="middle" textLength="23.3" lengthAdjust="spacingAndGlyphs" font-weight="bold">14.29%</text>
<rect x="56.8" y="451.4" width="13.2" height="8" rx="2.2" fill="#24e3ff"/>
<text x="73.00" y="457.30" font-size="6.6" fill="#555" text-anchor="start" textLength="66.4" lengthAdjust="spacingAndGlyphs">运行中门锁脱开（急停）</text>
<rect x="150.1" y="451.4" width="13" height="8" rx="2.2" fill="#3efcd2"/>
<text x="165.80" y="457.30" font-size="6.6" fill="#555" text-anchor="start" textLength="39.7" lengthAdjust="spacingAndGlyphs">抱闸开关故障</text>
<rect x="210.3" y="451.4" width="13.6" height="8" rx="2.2" fill="#05e58a"/>
<text x="226.90" y="457.30" font-size="6.6" fill="#555" text-anchor="start" textLength="57.6" lengthAdjust="spacingAndGlyphs">抱闸制动力矩不足</text>
</svg>
</body></html>
